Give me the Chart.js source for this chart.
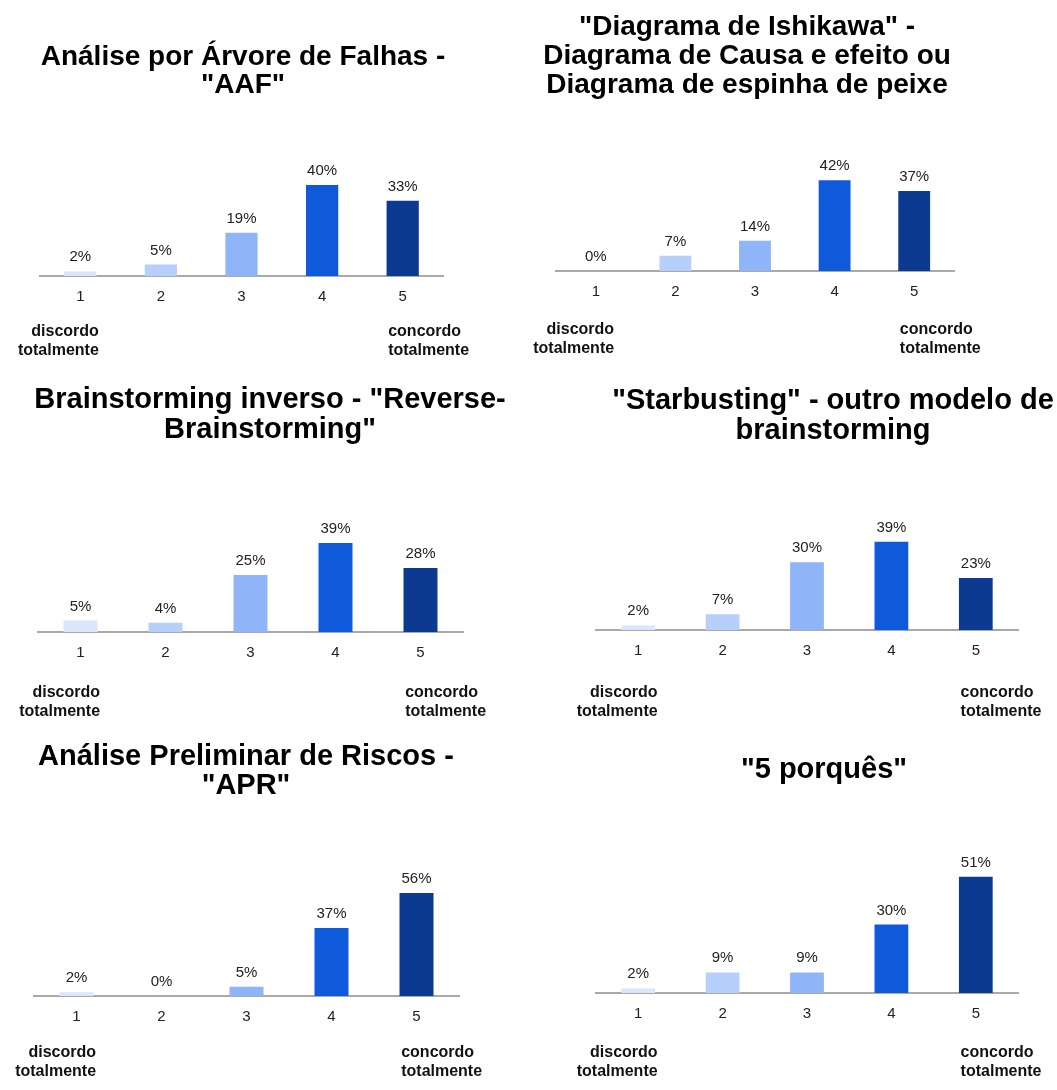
<!DOCTYPE html>
<html lang="pt">
<head>
<meta charset="utf-8">
<title>Resultados da avaliação das ferramentas</title>
<script src="https://cdn.jsdelivr.net/npm/chart.js@4.4.1/dist/chart.umd.min.js"></script>
<style>
  html, body { margin: 0; padding: 0; background: #fff; }
  body { width: 1057px; height: 1090px; position: relative; overflow: hidden; }
  .painel { position: absolute; }
  .painel canvas { display: block; }
</style>
</head>
<body>
<div class="painel" id="p0"><canvas id="c0"></canvas></div>
<div class="painel" id="p1"><canvas id="c1"></canvas></div>
<div class="painel" id="p2"><canvas id="c2"></canvas></div>
<div class="painel" id="p3"><canvas id="c3"></canvas></div>
<div class="painel" id="p4"><canvas id="c4"></canvas></div>
<div class="painel" id="p5"><canvas id="c5"></canvas></div>
<script>
// escala de concordância (1 a 5)
const categorias = ['1', '2', '3', '4', '5'];
const rotuloInicio = ['discordo', 'totalmente'];
const rotuloFim = ['concordo', 'totalmente'];

const titulos = [
  ['Análise por Árvore de Falhas -', '"AAF"'],
  ['"Diagrama de Ishikawa" -', 'Diagrama de Causa e efeito ou', 'Diagrama de espinha de peixe'],
  ['Brainstorming inverso - "Reverse-', 'Brainstorming"'],
  ['"Starbusting" - outro modelo de', 'brainstorming'],
  ['Análise Preliminar de Riscos -', '"APR"'],
  ['"5 porquês"']
];

// percentuais de respostas por nível
const valoresAAF = [2, 5, 19, 40, 33];
const valoresIshikawa = [0, 7, 14, 42, 37];
const valoresReverse = [5, 4, 25, 39, 28];
const valoresStarbusting = [2, 7, 30, 39, 23];
const valoresAPR = [2, 0, 5, 37, 56];
const valores5Porques = [2, 9, 9, 30, 51];

const series = [valoresAAF, valoresIshikawa, valoresReverse, valoresStarbusting, valoresAPR, valores5Porques];

const cores = ['#d9e6fc', '#b6cffb', '#8fb4f8', '#0f5adb', '#0b3a90'];
const FONTE = '"Liberation Sans", Arial, Helvetica, sans-serif';

// caixa de cada painel na página e posição do eixo / título
const paineis = [
  { left: 0,   top: 0,   w: 515, h: 370, axisL: 40,  axisR: 443,  base: 276, yMax: 52.7, tx: 243, ty: 57,  tSize: 28, tGap: 28, foot: 56 },
  { left: 515, top: 0,   w: 542, h: 370, axisL: 556, axisR: 954,  base: 271, yMax: 55.5, tx: 747, ty: 27,  tSize: 28, tGap: 29, foot: 59 },
  { left: 0,   top: 370, w: 515, h: 360, axisL: 38,  axisR: 463,  base: 632, yMax: 52.6, tx: 270, ty: 400, tSize: 29, tGap: 30, foot: 61 },
  { left: 515, top: 370, w: 542, h: 360, axisL: 596, axisR: 1018, base: 630, yMax: 53.1, tx: 833, ty: 401, tSize: 29, tGap: 30, foot: 63 },
  { left: 0,   top: 730, w: 515, h: 360, axisL: 34,  axisR: 459,  base: 996, yMax: 65.2, tx: 246, ty: 757, tSize: 29, tGap: 29, foot: 57 },
  { left: 515, top: 730, w: 542, h: 360, axisL: 596, axisR: 1018, base: 993, yMax: 52.6, tx: 824, ty: 770, tSize: 29, tGap: 29, foot: 60 }
];

const ALTURA_PLOT = 120;
const ALTURA_EIXO = 40;

// título, rótulos de valor e legendas das extremidades
const textosPlugin = {
  id: 'textos',
  afterDatasetsDraw(chart, args, opts) {
    const { ctx } = chart;
    const p = opts.painel;
    const meta = chart.getDatasetMeta(0);
    const xs = chart.scales.x;

    ctx.save();
    // percentuais acima das barras
    ctx.font = '15px ' + FONTE;
    ctx.fillStyle = '#222';
    ctx.textAlign = 'center';
    ctx.textBaseline = 'alphabetic';
    meta.data.forEach((bar, i) => {
      const v = chart.data.datasets[0].data[i];
      ctx.fillText(v + '%', bar.x, bar.y - 10);
    });

    // título
    ctx.font = 'bold ' + p.tSize + 'px ' + FONTE;
    ctx.fillStyle = '#000';
    ctx.textBaseline = 'middle';
    opts.titulo.forEach((linha, i) => {
      ctx.fillText(linha, p.tx - p.left, p.ty - p.top + i * p.tGap);
    });

    // discordo / concordo totalmente
    const passo = xs.getPixelForValue(1) - xs.getPixelForValue(0);
    const y0 = chart.chartArea.bottom + p.foot;
    ctx.font = 'bold 16px ' + FONTE;
    ctx.fillStyle = '#111';
    ctx.textAlign = 'right';
    const xIni = xs.getPixelForValue(0) + passo * 0.23;
    rotuloInicio.forEach((t, i) => ctx.fillText(t, xIni, y0 + i * 19));
    ctx.textAlign = 'left';
    const xFim = xs.getPixelForValue(categorias.length - 1) - passo * 0.18;
    rotuloFim.forEach((t, i) => ctx.fillText(t, xFim, y0 + i * 19));
    ctx.restore();
  }
};

paineis.forEach((p, k) => {
  const div = document.getElementById('p' + k);
  div.style.left = p.left + 'px';
  div.style.top = p.top + 'px';
  const canvas = document.getElementById('c' + k);
  canvas.width = p.w;
  canvas.height = p.h;

  const baseLocal = p.base - p.top;

  new Chart(canvas.getContext('2d'), {
    type: 'bar',
    data: {
      labels: categorias,
      datasets: [{
        data: series[k],
        backgroundColor: cores,
        borderWidth: 0,
        categoryPercentage: 0.8,
        barPercentage: 0.5
      }]
    },
    options: {
      responsive: false,
      animation: false,
      devicePixelRatio: 1,
      layout: {
        padding: {
          left: p.axisL - p.left,
          right: p.left + p.w - p.axisR,
          top: baseLocal - ALTURA_PLOT,
          bottom: p.h - ALTURA_EIXO - baseLocal
        }
      },
      scales: {
        x: {
          grid: { display: false, drawTicks: false },
          border: { display: true, color: '#a9a9a9', width: 2 },
          ticks: { color: '#222', font: { family: FONTE, size: 15 }, padding: 12 },
          afterFit: (scale) => { scale.height = ALTURA_EIXO; }
        },
        y: {
          display: false,
          min: 0,
          max: p.yMax
        }
      },
      plugins: {
        legend: { display: false },
        tooltip: { enabled: false },
        textos: { painel: p, titulo: titulos[k] }
      }
    },
    plugins: [textosPlugin]
  });
});
</script>
</body>
</html>
